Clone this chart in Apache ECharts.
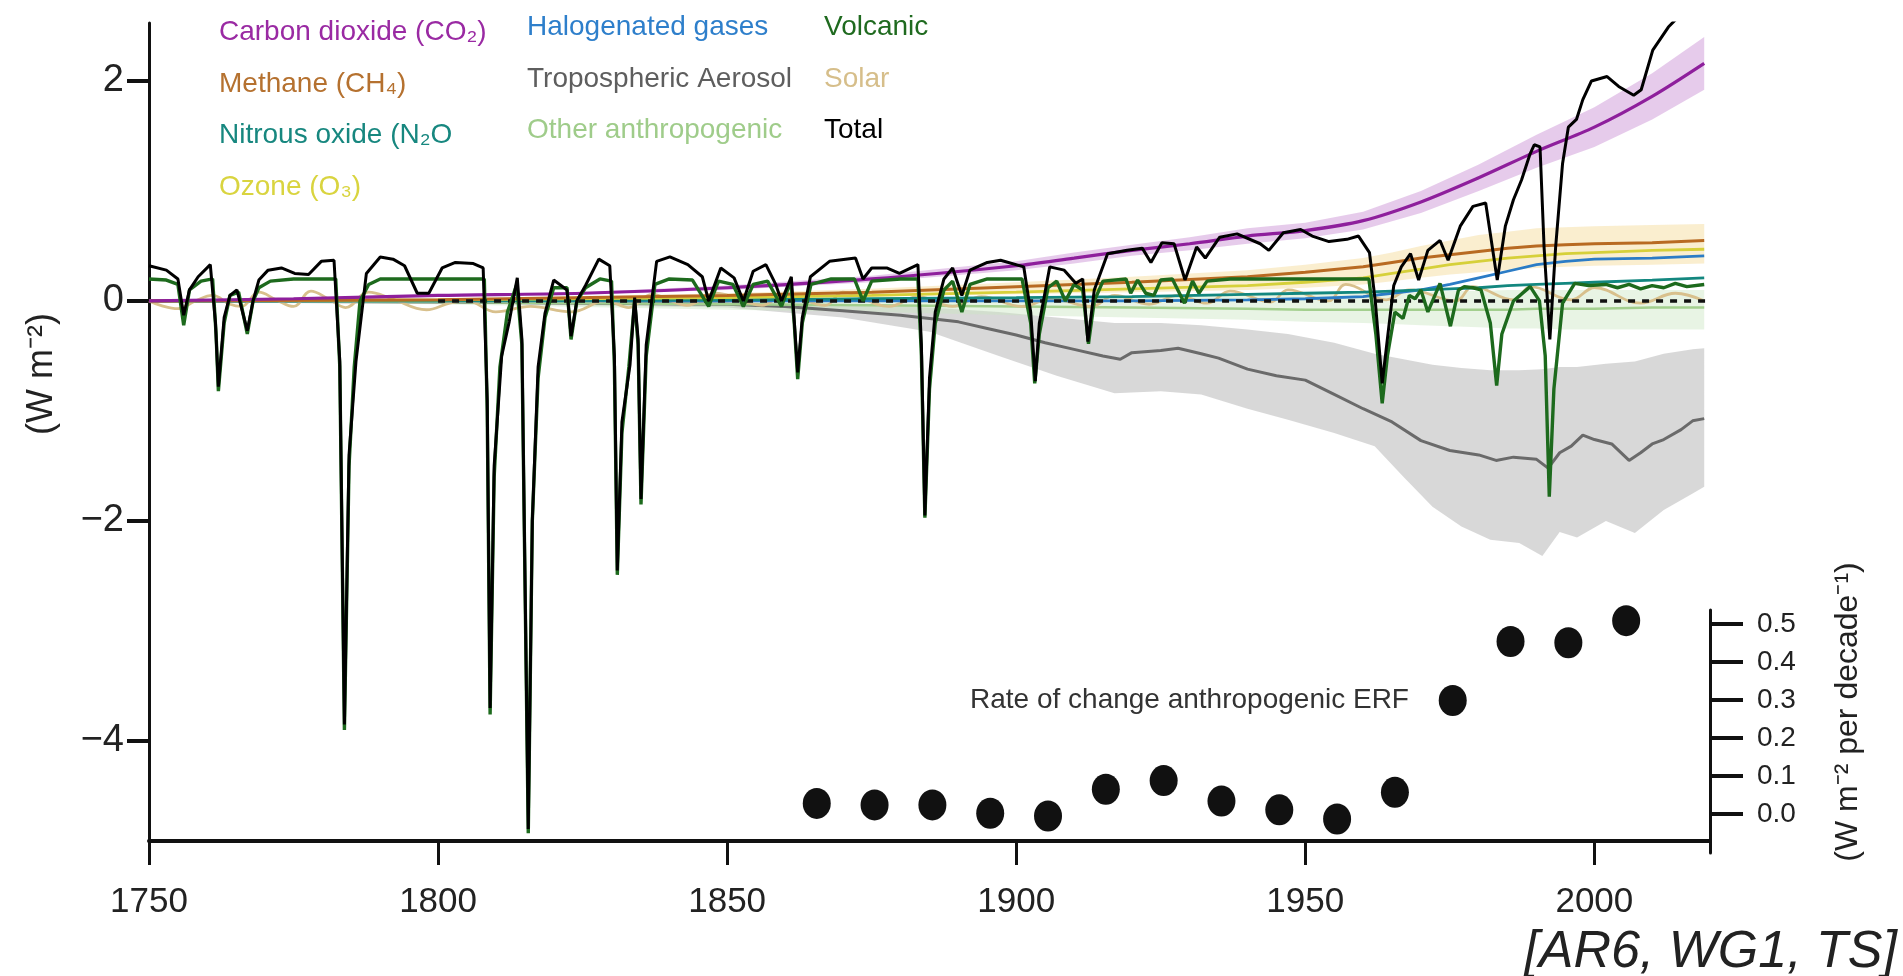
<!DOCTYPE html>
<html><head><meta charset="utf-8">
<script src="https://cdn.jsdelivr.net/npm/echarts@6/dist/echarts.min.js"></script>
<style>html,body{margin:0;padding:0;background:#fff}#c{width:1903px;height:976px}</style>
</head><body><div id="c"></div><script>
// ---------- DATA ----------
const xTicks = [1750, 1800, 1850, 1900, 1950, 2000];
const yTicks = [-4, -2, 0, 2];
const rateTicks = [0, 0.1, 0.2, 0.3, 0.4, 0.5];

const co2Years = [1750,1775,1800,1825,1850,1875,1900,1910,1920,1930,1940,1950,1960,1970,1980,1990,2000,2010,2019];
const co2      = [0,0.02,0.05,0.07,0.12,0.2,0.32,0.39,0.46,0.52,0.59,0.64,0.73,0.9,1.12,1.36,1.58,1.86,2.16];
const co2Lo    = [0,0.02,0.04,0.06,0.1,0.17,0.28,0.34,0.41,0.46,0.52,0.57,0.65,0.8,1.0,1.21,1.4,1.65,1.92];
const co2Hi    = [0,0.02,0.06,0.08,0.14,0.23,0.36,0.44,0.51,0.58,0.66,0.71,0.81,1.0,1.24,1.51,1.76,2.07,2.40];

const ghgYears   = [1750,1800,1850,1875,1900,1920,1940,1950,1960,1965,1970,1975,1980,1985,1990,1995,2000,2010,2019];
const methane    = [0,0.01,0.05,0.08,0.13,0.17,0.22,0.26,0.31,0.35,0.39,0.42,0.45,0.48,0.50,0.51,0.52,0.53,0.55];
const n2o        = [0,0.0,0.01,0.02,0.03,0.04,0.06,0.07,0.08,0.09,0.10,0.11,0.12,0.14,0.15,0.16,0.17,0.19,0.21];
const ozone      = [0,0.01,0.03,0.05,0.08,0.11,0.14,0.17,0.21,0.25,0.29,0.33,0.36,0.39,0.41,0.43,0.44,0.46,0.47];
const halogen    = [0,0,0,0,0,0,0.01,0.02,0.04,0.07,0.10,0.15,0.21,0.27,0.33,0.36,0.38,0.39,0.41];
const otherAnth  = [0,-0.01,-0.03,-0.04,-0.05,-0.06,-0.07,-0.08,-0.08,-0.08,-0.08,-0.08,-0.08,-0.08,-0.07,-0.07,-0.07,-0.06,-0.06];
const warmLo     = [0,0.0,0.02,0.04,0.06,0.08,0.10,0.12,0.15,0.18,0.21,0.24,0.26,0.28,0.30,0.31,0.32,0.33,0.34];
const warmHi     = [0,0.01,0.07,0.11,0.17,0.22,0.28,0.33,0.39,0.44,0.50,0.55,0.60,0.63,0.66,0.67,0.68,0.69,0.70];
const otherLo    = [0,-0.03,-0.08,-0.1,-0.13,-0.15,-0.17,-0.19,-0.2,-0.21,-0.22,-0.23,-0.24,-0.25,-0.25,-0.26,-0.26,-0.26,-0.26];
const otherHi    = [0,0.01,0.02,0.03,0.04,0.05,0.06,0.06,0.07,0.08,0.08,0.09,0.09,0.1,0.1,0.1,0.1,0.1,0.1];

const aerosolPts = [[1750,0],[1800,-0.01],[1850,-0.03],[1860,-0.05],[1870,-0.09],[1880,-0.13],[1890,-0.19],[1895,-0.25],[1900,-0.31],[1905,-0.38],[1910,-0.44],[1915,-0.5],[1918,-0.53],[1920,-0.47],[1925,-0.45],[1928,-0.43],[1932,-0.48],[1935,-0.52],[1940,-0.62],[1945,-0.68],[1950,-0.72],[1955,-0.85],[1960,-0.98],[1965,-1.10],[1970,-1.27],[1975,-1.36],[1980,-1.40],[1983,-1.45],[1986,-1.42],[1990,-1.44],[1992,-1.52],[1994,-1.38],[1996,-1.32],[1998,-1.22],[2000,-1.26],[2003,-1.30],[2006,-1.45],[2008,-1.38],[2010,-1.30],[2012,-1.26],[2015,-1.17],[2017,-1.09],[2019,-1.07]];
const aerBandYears = [1750,1800,1850,1870,1885,1897,1907,1917,1925,1932,1940,1947,1955,1962,1967,1972,1977,1982,1987,1991,1994,1997,2002,2007,2012,2017,2019];
const aerBandLo    = [0,-0.02,-0.06,-0.15,-0.28,-0.5,-0.68,-0.84,-0.82,-0.85,-0.98,-1.08,-1.2,-1.32,-1.6,-1.87,-2.05,-2.17,-2.2,-2.32,-2.1,-2.15,-2.0,-2.11,-1.9,-1.75,-1.69];
const aerBandHi    = [0,0,-0.01,-0.03,-0.06,-0.1,-0.15,-0.2,-0.2,-0.22,-0.26,-0.3,-0.38,-0.48,-0.53,-0.58,-0.61,-0.63,-0.63,-0.62,-0.6,-0.6,-0.57,-0.55,-0.48,-0.44,-0.43];

const solarPts = [[1750,0.0],[1752,-0.04],[1755,-0.07],[1758,0.0],[1761,0.05],[1764,-0.03],[1766,-0.05],[1769,0.08],[1772,0.01],[1775,-0.05],[1778,0.09],[1781,0.02],[1784,-0.06],[1788,0.08],[1792,0.02],[1798,-0.08],[1802,-0.02],[1805,0.0],[1810,-0.1],[1816,-0.05],[1823,-0.1],[1829,0.0],[1833,-0.06],[1837,0.06],[1843,-0.04],[1848,0.07],[1856,-0.04],[1860,0.06],[1867,-0.04],[1870,0.08],[1878,-0.05],[1883,0.04],[1889,-0.05],[1894,0.04],[1901,-0.05],[1906,0.02],[1913,-0.05],[1917,0.05],[1923,-0.03],[1928,0.05],[1933,-0.02],[1937,0.09],[1944,-0.01],[1947,0.1],[1954,0.0],[1957,0.15],[1964,0.01],[1968,0.1],[1976,0.0],[1979,0.13],[1986,0.01],[1989,0.13],[1996,0.01],[2000,0.12],[2008,-0.02],[2014,0.07],[2019,0.0]];

const volcanicPts = [[1750,0.2],[1753,0.19],[1755,0.15],[1756,-0.22],[1757,0.1],[1759,0.18],[1761,0.2],[1761.6,-0.3],[1762,-0.82],[1763,-0.2],[1764,0.05],[1765.5,0.08],[1767,-0.3],[1768,0.0],[1769,0.12],[1771,0.18],[1775,0.2],[1780,0.2],[1782.3,0.2],[1783,-0.6],[1783.8,-3.9],[1784.6,-1.5],[1785.5,-0.6],[1786.5,0.0],[1788,0.15],[1790,0.2],[1795,0.2],[1800,0.2],[1805,0.2],[1808,0.2],[1808.5,-1.0],[1809,-3.76],[1809.7,-1.6],[1810.7,-0.6],[1812,-0.1],[1813.6,0.15],[1814.5,-0.4],[1815.6,-4.84],[1816.3,-2.0],[1817.3,-0.7],[1818.5,-0.15],[1820,0.12],[1822.3,0.12],[1823,-0.35],[1824,0.0],[1825.5,0.12],[1828,0.2],[1830,0.18],[1830.5,-0.6],[1831,-2.49],[1831.8,-1.2],[1833,-0.6],[1834,0.0],[1834.6,-0.4],[1835.1,-1.85],[1836,-0.5],[1837.5,0.15],[1840,0.2],[1844,0.19],[1846.8,-0.05],[1848.5,0.18],[1851,0.15],[1852.8,-0.05],[1854.5,0.15],[1857,0.18],[1859.4,-0.05],[1861,0.18],[1861.6,-0.2],[1862.2,-0.71],[1863,-0.2],[1864.5,0.15],[1868,0.2],[1872,0.2],[1873.5,0.0],[1875,0.18],[1880,0.2],[1883,0.2],[1883.6,-0.5],[1884.2,-1.97],[1885,-0.8],[1886,-0.2],[1887.5,0.1],[1889,0.18],[1890.6,-0.1],[1892,0.15],[1895,0.2],[1901,0.2],[1902.5,-0.2],[1903.2,-0.75],[1904,-0.3],[1905.5,0.12],[1907,0.18],[1908.5,0.0],[1910,0.15],[1911.5,0.1],[1912.5,-0.39],[1913.5,0.0],[1915,0.18],[1919,0.2],[1919.8,0.07],[1921,0.19],[1922.4,0.07],[1923.8,0.05],[1925,0.19],[1927,0.2],[1929.1,-0.02],[1930.5,0.18],[1931.6,0.07],[1933,0.18],[1937,0.2],[1945,0.2],[1955,0.2],[1961,0.2],[1962.2,-0.3],[1963.3,-0.93],[1964.2,-0.5],[1965.5,-0.1],[1966.9,-0.16],[1968,0.05],[1969,0.02],[1970,0.1],[1971.2,-0.1],[1973.3,0.16],[1975.1,-0.23],[1976.5,0.1],[1977.5,0.13],[1979,0.12],[1980.4,0.1],[1982,-0.2],[1983.1,-0.77],[1984,-0.3],[1986,0.0],[1988.9,0.13],[1990.5,0.0],[1991.5,-0.5],[1992.2,-1.78],[1993,-0.8],[1994.5,-0.02],[1996.6,0.16],[1999,0.14],[2002,0.15],[2004,0.12],[2006,0.15],[2008,0.11],[2010,0.14],[2012,0.12],[2014,0.16],[2016,0.13],[2019,0.15]];

const totalPts = [[1750,0.32],[1753,0.28],[1755,0.2],[1756,-0.13],[1757,0.1],[1758.5,0.22],[1760.6,0.33],[1761.5,-0.2],[1762,-0.78],[1763,-0.15],[1764,0.05],[1765.2,0.1],[1767,-0.27],[1768,0.0],[1769,0.19],[1770.6,0.28],[1772.9,0.3],[1775.2,0.25],[1777.6,0.24],[1779.8,0.36],[1782,0.37],[1783,-0.55],[1783.8,-3.85],[1784.6,-1.4],[1785.8,-0.55],[1787.6,0.25],[1790,0.4],[1792.2,0.38],[1794.2,0.32],[1796.4,0.07],[1798.4,0.07],[1800.7,0.3],[1803,0.35],[1806.1,0.34],[1807.8,0.3],[1808.5,-0.9],[1809,-3.7],[1809.7,-1.5],[1811,-0.5],[1812.3,-0.19],[1813.7,0.21],[1814.5,-0.35],[1815.6,-4.8],[1816.3,-2.0],[1817.3,-0.6],[1818.5,-0.11],[1820,0.19],[1822.3,0.1],[1823,-0.32],[1824,0.0],[1825.5,0.14],[1827.8,0.38],[1829.7,0.32],[1830.5,-0.5],[1831,-2.45],[1831.8,-1.1],[1833.2,-0.58],[1834,0.03],[1834.6,-0.35],[1835.1,-1.8],[1836,-0.4],[1837.8,0.36],[1840.1,0.4],[1843.2,0.33],[1845.7,0.22],[1846.8,0.0],[1848.9,0.3],[1851.2,0.21],[1852.8,0.0],[1854.5,0.27],[1856.7,0.33],[1858.4,0.15],[1859.4,0.0],[1861.1,0.22],[1862.2,-0.65],[1863,-0.15],[1864.4,0.22],[1867.7,0.36],[1872.2,0.39],[1873.5,0.2],[1875,0.3],[1877.6,0.3],[1879.8,0.25],[1883,0.33],[1883.6,-0.4],[1884.2,-1.95],[1885,-0.7],[1886,-0.1],[1887.5,0.2],[1889,0.3],[1890.6,0.05],[1892,0.28],[1895,0.35],[1897.3,0.37],[1901.3,0.31],[1902.5,-0.1],[1903.3,-0.73],[1904,-0.2],[1905.8,0.31],[1908.3,0.28],[1910.3,0.16],[1911.5,0.2],[1912.4,-0.37],[1913.5,0.1],[1915.8,0.43],[1919.2,0.46],[1921.8,0.48],[1923.3,0.35],[1925.2,0.53],[1927.3,0.52],[1929.2,0.19],[1931.2,0.49],[1932.7,0.39],[1935.2,0.58],[1938.2,0.61],[1942.2,0.52],[1943.7,0.46],[1946.2,0.62],[1949.2,0.65],[1951.2,0.59],[1954.1,0.54],[1957.2,0.56],[1959.2,0.59],[1961.1,0.44],[1962.1,0.0],[1963.3,-0.75],[1964.3,-0.3],[1965.3,0.14],[1966.6,0.31],[1968.2,0.43],[1969.6,0.19],[1971.2,0.46],[1973.3,0.55],[1974.7,0.37],[1976.8,0.68],[1979,0.86],[1981.2,0.89],[1983.2,0.19],[1984.6,0.68],[1986,0.92],[1987.4,1.1],[1988.9,1.34],[1989.6,1.42],[1990.6,1.4],[1991.3,0.49],[1992.3,-0.35],[1993.3,0.49],[1994.5,1.25],[1995.5,1.58],[1996.9,1.65],[1998,1.83],[1999.5,2.0],[2002.2,2.04],[2004.2,1.95],[2006.8,1.87],[2008.1,1.92],[2010.1,2.28],[2012.8,2.49],[2014.1,2.56],[2016.8,2.65],[2019,2.72]];

const zeroRefYears = [1800, 2020];
const zeroRef = [0, 0];

const rateYears  = [1865.5,1875.5,1885.5,1895.5,1905.5,1915.5,1925.5,1935.5,1945.5,1955.5,1965.5,1975.5,1985.5,1995.5,2005.5];
const rateValues = [0.028,0.024,0.024,0.002,-0.005,0.065,0.088,0.034,0.011,-0.013,0.057,0.299,0.454,0.451,0.509];

const names = {
  co2: 'Carbon dioxide (CO₂)', ch4: 'Methane (CH₄)', n2o: 'Nitrous oxide (N₂O', o3: 'Ozone (O₃)',
  halo: 'Halogenated gases', aer: 'Tropospheric Aerosol', other: 'Other anthropogenic',
  volc: 'Volcanic', solar: 'Solar', total: 'Total'
};
const colors = {
  co2: '#8e1f9c', ch4: '#b86a22', n2o: '#13877f', o3: '#d6d03a', halo: '#2b7cc6',
  aer: '#6a6a6a', other: '#a3cf8e', volc: '#1d6a1d', solar: '#d8c08c', total: '#000000'
};
const legendColors = {
  co2: '#9a2aa3', ch4: '#b5712f', n2o: '#17877f', o3: '#d9d43f', halo: '#2e7fcb',
  aer: '#5e5e5e', other: '#9fcc8a', volc: '#1f6a1f', solar: '#d6be8a', total: '#000000'
};

// ---------- HELPERS ----------
const zip = (xs, ys) => xs.map((x, i) => [x, ys[i]]);
const FONT = '"Liberation Sans Narrow", "Liberation Sans", Arial, sans-serif';

function band(years, lo, hi, color) {
  return {
    type: 'custom', silent: true, z: 1, clip: true,
    data: [[years[0], lo[0]]],
    renderItem: function (params, api) {
      const top = years.map((y, i) => api.coord([y, hi[i]]));
      const bottom = [];
      for (let i = years.length - 1; i >= 0; i--) bottom.push(api.coord([years[i], lo[i]]));
      return { type: 'polygon', shape: { points: top.concat(bottom) }, style: { fill: color } };
    }
  };
}
function line(key, data, width, extra) {
  return Object.assign({ type: 'line', name: names[key], data: data, symbol: 'none',
    lineStyle: { color: colors[key], width: width }, itemStyle: { color: colors[key] }, z: 3 }, extra || {});
}
function legendCol(left, top, keys) {
  return {
    left: left, top: top, orient: 'vertical', icon: 'none', itemWidth: 0, itemHeight: 10, itemGap: 14.5,
    selectedMode: false, padding: 0,
    textStyle: { fontFamily: FONT, fontSize: 28, lineHeight: 37 },
    data: keys.map(k => ({ name: names[k], textStyle: { color: legendColors[k] } }))
  };
}

const series = [
  band(aerBandYears, aerBandLo, aerBandHi, 'rgba(200,200,200,0.7)'),
  band(ghgYears, otherLo, otherHi, 'rgba(205,230,195,0.45)'),
  band(ghgYears, warmLo, warmHi, 'rgba(246,222,160,0.5)'),
  band(co2Years, co2Lo, co2Hi, 'rgba(214,168,222,0.6)'),
  line('aer', aerosolPts, 3),
  line('other', zip(ghgYears, otherAnth), 2.5),
  line('solar', solarPts, 2.8, { smooth: 0.4 }),
  line('halo', zip(ghgYears, halogen), 2.8),
  line('n2o', zip(ghgYears, n2o), 2.8),
  line('o3', zip(ghgYears, ozone), 2.8),
  line('ch4', zip(ghgYears, methane), 3),
  line('co2', zip(co2Years, co2), 3.2, { smooth: 0.3 }),
  { type: 'line', name: 'zeroRef', data: zip(zeroRefYears, zeroRef), symbol: 'none', silent: true, z: 3,
    lineStyle: { color: '#111', width: 3.5, type: [7, 7] } },
  line('volc', volcanicPts, 3.4),
  line('total', totalPts, 3),
  { type: 'scatter', name: 'rate', xAxisIndex: 1, yAxisIndex: 1, data: zip(rateYears, rateValues),
    symbol: 'circle', symbolSize: [28, 31], itemStyle: { color: '#111111', opacity: 1 }, z: 5 }
];

const option = {
  animation: false,
  backgroundColor: '#ffffff',
  grid: [
    { left: 149, right: 193, top: 23, bottom: 135 },
    { left: 149, right: 193, top: 610, bottom: 123 }
  ],
  xAxis: [
    { type: 'value', gridIndex: 0, min: 1750, max: 2020, interval: 50,
      axisLine: { show: true, onZero: false, lineStyle: { color: '#111', width: 4 } },
      axisTick: { show: true, length: 24, lineStyle: { color: '#111', width: 3 }, customValues: xTicks },
      axisLabel: { show: true, customValues: xTicks, fontFamily: FONT, fontSize: 35, color: '#222', margin: 44,
        formatter: v => String(v) },
      splitLine: { show: false } },
    { type: 'value', gridIndex: 1, min: 1750, max: 2020, show: false }
  ],
  yAxis: [
    { type: 'value', gridIndex: 0, min: -4.91, max: 2.527,
      axisLine: { show: true, onZero: false, lineStyle: { color: '#111', width: 3 } },
      axisTick: { show: true, length: 22, customValues: yTicks, lineStyle: { color: '#111', width: 4 } },
      axisLabel: { show: true, customValues: yTicks, fontFamily: FONT, fontSize: 38, color: '#222', margin: 25,
        formatter: v => (v < 0 ? '\u2212' + Math.abs(v) : String(v)) },
      splitLine: { show: false } },
    { type: 'value', gridIndex: 1, position: 'right', min: -0.1026, max: 0.537,
      axisLine: { show: true, onZero: false, lineStyle: { color: '#111', width: 3 } },
      axisTick: { show: true, length: 33, customValues: rateTicks, lineStyle: { color: '#111', width: 4 } },
      axisLabel: { show: true, customValues: rateTicks, fontFamily: FONT, fontSize: 28, color: '#222', margin: 47,
        formatter: v => v.toFixed(1) },
      splitLine: { show: false } }
  ],
  legend: [
    legendCol(214, 14, ['co2', 'ch4', 'n2o', 'o3']),
    legendCol(522, 9, ['halo', 'aer', 'other']),
    legendCol(819, 9, ['volc', 'solar', 'total'])
  ],
  graphic: [
    { type: 'text', x: 42, y: 374, rotation: Math.PI / 2,
      style: { text: '(W m⁻²)', fontFamily: FONT, fontSize: 36, fill: '#222', align: 'center', verticalAlign: 'middle' } },
    { type: 'text', x: 1848, y: 712, rotation: Math.PI / 2,
      style: { text: '(W m⁻² per decade⁻¹)', fontFamily: FONT, fontSize: 32, fill: '#222', align: 'center', verticalAlign: 'middle' } },
    { type: 'text', x: 970, y: 700,
      style: { text: 'Rate of change anthropogenic ERF', fontFamily: FONT, fontSize: 28, fill: '#333', align: 'left', verticalAlign: 'middle' } },
    { type: 'text', x: 1897, y: 953,
      style: { text: '[AR6, WG1, TS]', fontFamily: '"Liberation Sans", Arial, sans-serif', fontStyle: 'italic', fontSize: 52, fill: '#222', align: 'right', verticalAlign: 'middle' } }
  ],
  series: series
};

const chart = echarts.init(document.getElementById('c'), null, { renderer: 'canvas' });
chart.setOption(option);
</script></body></html>
